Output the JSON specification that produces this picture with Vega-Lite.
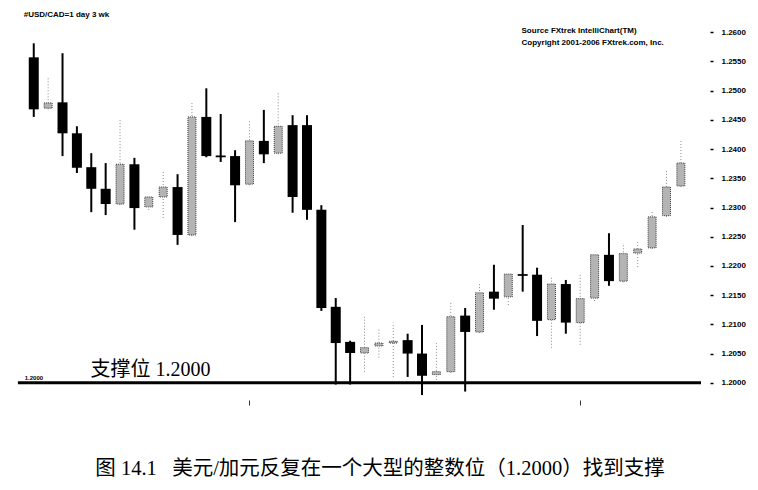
{
  "$schema": "https://vega.github.io/schema/vega-lite/v6.json",
  "width": 706,
  "height": 409,
  "padding": {"top": 3, "left": 0, "right": 0, "bottom": 0},
  "background": "white",
  "config": {"view": {"stroke": null}},
  "title": {
    "text": "图\u00a014.1\u00a0\u00a0\u00a0美元/加元反复在一个大型的整数位（1.2000）找到支撑",
    "orient": "bottom",
    "anchor": "middle",
    "frame": "group",
    "dx": 27,
    "offset": 47,
    "baseline": "top",
    "font": "Liberation Serif, Noto Sans CJK SC",
    "fontSize": 20.5,
    "fontWeight": "normal",
    "color": "black"
  },
  "datasets": {
    "candles": [
      {"i": 1, "o": 1.2557, "h": 1.2581, "l": 1.2455, "c": 1.2468},
      {"i": 2, "o": 1.2470, "h": 1.2521, "l": 1.2468, "c": 1.2479},
      {"i": 3, "o": 1.2480, "h": 1.2564, "l": 1.2388, "c": 1.2427},
      {"i": 4, "o": 1.2427, "h": 1.2439, "l": 1.2359, "c": 1.2368},
      {"i": 5, "o": 1.2369, "h": 1.2393, "l": 1.2292, "c": 1.2332},
      {"i": 6, "o": 1.2332, "h": 1.2376, "l": 1.2287, "c": 1.2306},
      {"i": 7, "o": 1.2306, "h": 1.2453, "l": 1.2304, "c": 1.2374},
      {"i": 8, "o": 1.2374, "h": 1.2385, "l": 1.2262, "c": 1.2299},
      {"i": 9, "o": 1.2301, "h": 1.2322, "l": 1.2296, "c": 1.2318},
      {"i": 10, "o": 1.2318, "h": 1.2364, "l": 1.2282, "c": 1.2335},
      {"i": 11, "o": 1.2335, "h": 1.2357, "l": 1.2236, "c": 1.2253},
      {"i": 12, "o": 1.2253, "h": 1.2479, "l": 1.2251, "c": 1.2455},
      {"i": 13, "o": 1.2455, "h": 1.2504, "l": 1.2386, "c": 1.2388},
      {"i": 14, "o": 1.2389, "h": 1.2460, "l": 1.2378, "c": 1.2386},
      {"i": 15, "o": 1.2388, "h": 1.2398, "l": 1.2275, "c": 1.2338},
      {"i": 16, "o": 1.2340, "h": 1.2450, "l": 1.2338, "c": 1.2414},
      {"i": 17, "o": 1.2414, "h": 1.2467, "l": 1.2376, "c": 1.2391},
      {"i": 18, "o": 1.2393, "h": 1.2496, "l": 1.2391, "c": 1.2439},
      {"i": 19, "o": 1.2441, "h": 1.2458, "l": 1.2291, "c": 1.2318},
      {"i": 20, "o": 1.2441, "h": 1.2458, "l": 1.2279, "c": 1.2296},
      {"i": 21, "o": 1.2296, "h": 1.2304, "l": 1.2123, "c": 1.2128},
      {"i": 22, "o": 1.2130, "h": 1.2145, "l": 1.1997, "c": 1.2068},
      {"i": 23, "o": 1.2070, "h": 1.2072, "l": 1.1997, "c": 1.2051},
      {"i": 24, "o": 1.2051, "h": 1.2113, "l": 1.2019, "c": 1.2060},
      {"i": 25, "o": 1.2063, "h": 1.2091, "l": 1.2043, "c": 1.2068},
      {"i": 26, "o": 1.2068, "h": 1.2103, "l": 1.2010, "c": 1.2071},
      {"i": 27, "o": 1.2073, "h": 1.2084, "l": 1.2010, "c": 1.2050},
      {"i": 28, "o": 1.2050, "h": 1.2099, "l": 1.1979, "c": 1.2012},
      {"i": 29, "o": 1.2014, "h": 1.2068, "l": 1.2005, "c": 1.2019},
      {"i": 30, "o": 1.2019, "h": 1.2138, "l": 1.2017, "c": 1.2113},
      {"i": 31, "o": 1.2115, "h": 1.2128, "l": 1.1985, "c": 1.2087},
      {"i": 32, "o": 1.2087, "h": 1.2171, "l": 1.2085, "c": 1.2154},
      {"i": 33, "o": 1.2156, "h": 1.2202, "l": 1.2125, "c": 1.2144},
      {"i": 34, "o": 1.2147, "h": 1.2188, "l": 1.2133, "c": 1.2186},
      {"i": 35, "o": 1.2186, "h": 1.2270, "l": 1.2156, "c": 1.2183},
      {"i": 36, "o": 1.2185, "h": 1.2197, "l": 1.2080, "c": 1.2106},
      {"i": 37, "o": 1.2108, "h": 1.2181, "l": 1.2060, "c": 1.2169},
      {"i": 38, "o": 1.2169, "h": 1.2176, "l": 1.2084, "c": 1.2103},
      {"i": 39, "o": 1.2103, "h": 1.2185, "l": 1.2065, "c": 1.2144},
      {"i": 40, "o": 1.2145, "h": 1.2222, "l": 1.2140, "c": 1.2219},
      {"i": 41, "o": 1.2219, "h": 1.2256, "l": 1.2166, "c": 1.2174},
      {"i": 42, "o": 1.2174, "h": 1.2239, "l": 1.2172, "c": 1.2221},
      {"i": 43, "o": 1.2222, "h": 1.2241, "l": 1.2198, "c": 1.2229},
      {"i": 44, "o": 1.2231, "h": 1.2296, "l": 1.2229, "c": 1.2284},
      {"i": 45, "o": 1.2286, "h": 1.2364, "l": 1.2284, "c": 1.2335},
      {"i": 46, "o": 1.2337, "h": 1.2415, "l": 1.2335, "c": 1.2376}
    ],
    "support": [{"x1": -0.1, "x2": 47.4, "y": 1.2}],
    "notes": [
      {"x": 4.95, "y": 1.2012, "t": "支撑位 1.2000", "k": "big"},
      {"x": 0.37, "y": 1.2004, "t": "1.2000", "k": "tiny"},
      {"x": 0.30, "y": 1.26295, "t": "#USD/CAD=1 day 3 wk", "k": "small"},
      {"x": 34.92, "y": 1.26021, "t": "Source FXtrek IntelliChart(TM)", "k": "small"},
      {"x": 34.92, "y": 1.25816, "t": "Copyright 2001-2006 FXtrek.com, Inc.", "k": "small"}
    ]
  },
  "layer": [
    {
      "data": {"name": "support"},
      "mark": {"type": "rule", "color": "black", "strokeWidth": 3},
      "encoding": {
        "x": {"field": "x1", "type": "quantitative", "scale": {"domain": [-1, 47.4], "nice": false, "zero": false},
              "axis": {"orient": "bottom", "values": [16, 39], "labels": false, "domain": false, "grid": false, "ticks": true, "tickSize": 5, "tickColor": "#333", "offset": -12, "title": null}},
        "x2": {"field": "x2"},
        "y": {"field": "y", "type": "quantitative", "scale": {"domain": [1.195, 1.265], "nice": false, "zero": false},
              "axis": {"orient": "right", "values": [1.2, 1.205, 1.21, 1.215, 1.22, 1.225, 1.23, 1.235, 1.24, 1.245, 1.25, 1.255, 1.26],
                       "tickCount": 30, "format": ".4f", "labelOverlap": false, "labelBound": false, "domain": false, "grid": false, "ticks": true, "tickSize": 3, "tickWidth": 1.5, "tickColor": "black", "offset": 4,
                       "labelPadding": 8, "labelFont": "Liberation Sans", "labelFontSize": 8, "labelFontWeight": "bold", "labelColor": "black", "title": null}}
      }
    },
    {
      "data": {"name": "candles"},
      "transform": [{"filter": "datum.c < datum.o"}],
      "mark": {"type": "rule", "color": "black", "strokeWidth": 2},
      "encoding": {
        "x": {"field": "i", "type": "quantitative"},
        "y": {"field": "l", "type": "quantitative"},
        "y2": {"field": "h"}
      }
    },
    {
      "data": {"name": "candles"},
      "transform": [{"filter": "datum.c >= datum.o"}],
      "mark": {"type": "rule", "color": "#888888", "strokeWidth": 1, "strokeDash": [1, 2]},
      "encoding": {
        "x": {"field": "i", "type": "quantitative"},
        "y": {"field": "l", "type": "quantitative"},
        "y2": {"field": "h"}
      }
    },
    {
      "data": {"name": "candles"},
      "transform": [{"filter": "datum.c < datum.o"}],
      "mark": {"type": "bar", "color": "black", "width": 10},
      "encoding": {
        "x": {"field": "i", "type": "quantitative"},
        "y": {"field": "o", "type": "quantitative"},
        "y2": {"field": "c"}
      }
    },
    {
      "data": {"name": "candles"},
      "transform": [{"filter": "datum.c >= datum.o"}],
      "mark": {"type": "bar", "fill": "#b4b4b4", "stroke": "#3a3a3a", "strokeWidth": 1, "strokeDash": [1, 1], "width": 8},
      "encoding": {
        "x": {"field": "i", "type": "quantitative"},
        "y": {"field": "o", "type": "quantitative"},
        "y2": {"field": "c"}
      }
    },
    {
      "data": {"name": "notes"},
      "transform": [{"filter": "datum.k == 'big'"}],
      "mark": {"type": "text", "align": "left", "baseline": "alphabetic", "font": "Liberation Serif, Noto Sans CJK SC", "fontSize": 20, "color": "black"},
      "encoding": {
        "x": {"field": "x", "type": "quantitative"},
        "y": {"field": "y", "type": "quantitative"},
        "text": {"field": "t"}
      }
    },
    {
      "data": {"name": "notes"},
      "transform": [{"filter": "datum.k == 'small'"}],
      "mark": {"type": "text", "align": "left", "baseline": "middle", "font": "Liberation Sans", "fontSize": 8, "fontWeight": "bold", "color": "black"},
      "encoding": {
        "x": {"field": "x", "type": "quantitative"},
        "y": {"field": "y", "type": "quantitative"},
        "text": {"field": "t"}
      }
    },
    {
      "data": {"name": "notes"},
      "transform": [{"filter": "datum.k == 'tiny'"}],
      "mark": {"type": "text", "align": "left", "baseline": "alphabetic", "font": "Liberation Sans", "fontSize": 6, "fontWeight": "bold", "color": "black"},
      "encoding": {
        "x": {"field": "x", "type": "quantitative"},
        "y": {"field": "y", "type": "quantitative"},
        "text": {"field": "t"}
      }
    }
  ]
}
